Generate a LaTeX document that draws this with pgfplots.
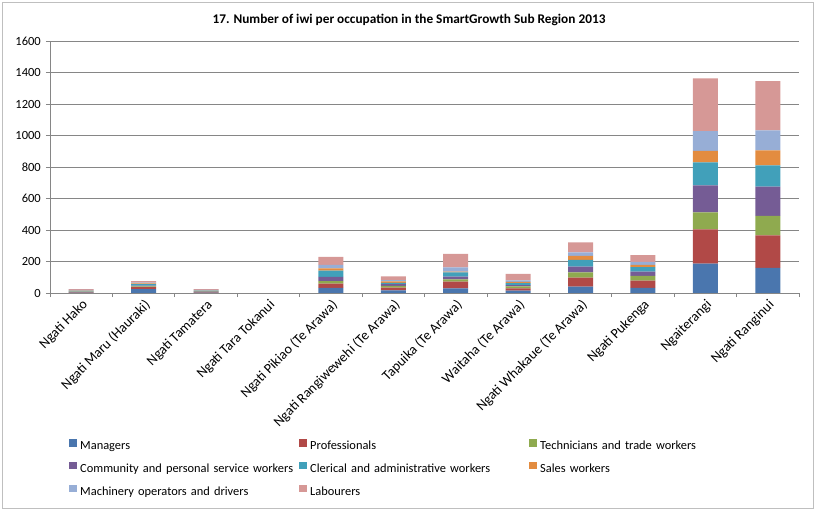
\documentclass[border=0pt]{standalone}
\usepackage{pgfplots}
\pgfplotsset{compat=1.18}
\usepackage{pgfplotstable}
\usepackage{fontspec}
\setmainfont{Carlito}
\definecolor{cM}{HTML}{4A76AE}
\definecolor{cP}{HTML}{B14947}
\definecolor{cT}{HTML}{8FAA4F}
\definecolor{cC}{HTML}{755C95}
\definecolor{cCl}{HTML}{41A0BA}
\definecolor{cS}{HTML}{E38C40}
\definecolor{cMa}{HTML}{97AED6}
\definecolor{cL}{HTML}{D69896}
\definecolor{gridc}{HTML}{868686}
\newcommand\lf{\fontsize{12.4bp}{15bp}\selectfont}
\newcommand\xf{\fontsize{14bp}{16bp}\selectfont}
\newcommand\yf{\fontsize{12.5bp}{15bp}\selectfont}
\pgfplotstableread{
x M P T C Cl S Mach L
0 3 2 3 2 4 1 5 5
1 25 12 5 5 10 4 5 10
2 3 3 2 4 3 1 4 5
3 0 0 0 0 0 0 0 0
4 32 27 17 27 39 15 21 52
5 17 17 12 11 8 9 7 25
6 30 42 15 17 27 4 28 85
7 15 15 12 8 12 8 10 42
8 40 57 34 36 43 25 23 64
9 32 46 30 27 30 13 19 44
10 186 218 108 172 146 72 125 336
11 159 207 123 186 136 95 127 313
}\data
\begin{document}
\begin{tikzpicture}
\useasboundingbox (0,0) rectangle (816bp,512bp);
\draw[gray!50, line width=0.8bp] (2bp,4bp) rectangle (813bp,510bp);
\node[font=\bfseries\fontsize{13.3bp}{16bp}\selectfont] at (409bp,492bp) {17. Number of iwi per occupation in the SmartGrowth Sub Region 2013};
\begin{axis}[
  at={(50bp,219bp)}, anchor=south west,
  scale only axis, width=749bp, height=252bp,
  ybar stacked, bar width=25bp,
  xmin=-0.5, xmax=11.5, ymin=0, ymax=1600,
  ytick={0,200,...,1600},
  xtick={0,...,11},
  xticklabels={Ngati Hako, Ngati Maru (Hauraki), Ngati Tamatera, Ngati Tara Tokanui, Ngati Pikiao (Te Arawa), Ngati Rangiwewehi (Te Arawa), Tapuika (Te Arawa), Waitaha (Te Arawa), Ngati Whakaue (Te Arawa), Ngati Pukenga, Ngaiterangi, Ngati Ranginui},
  minor xtick={-0.5,0.5,...,11.5},
  major x tick style={draw=none},
  minor x tick style={gridc, line width=0.8bp},
  minor tick length=4bp,
  major tick length=4bp,
  ytick style={gridc, line width=0.8bp},
  tick align=outside,
  axis x line*=bottom, axis y line*=left,
  axis line style={gridc, line width=0.8bp},
  ymajorgrids,
  major grid style={gridc, line width=0.8bp},
  /pgf/number format/assume math mode=true,
  /pgf/number format/set thousands separator={},
  yticklabel style={font=\yf, inner sep=0pt, xshift=-5bp},
  xticklabel style={font=\xf, rotate=45, anchor=north east, inner sep=1bp},
  legend columns=3,
  legend image code/.code={\fill[#1] (0bp,0.3bp) rectangle (7.5bp,7.8bp);},
  legend style={draw=none, fill=none, at={(axis description cs:0.0254,-0.579)}, anchor=north west,
    inner sep=0pt, row sep=9bp, column sep=0pt, font=\lf,
    nodes={inner ysep=0pt, inner xsep=3.5bp, text height=9bp, text depth=3bp, align=left},
    /tikz/column 2/.style={text width=215.5bp},
    /tikz/column 4/.style={text width=215.5bp},
    /tikz/column 6/.style={text width=200bp}},
  legend cell align=left,
]
\addplot[fill=cM, draw=none] table[x=x,y=M]{\data};
\addplot[fill=cP, draw=none] table[x=x,y=P]{\data};
\addplot[fill=cT, draw=none] table[x=x,y=T]{\data};
\addplot[fill=cC, draw=none] table[x=x,y=C]{\data};
\addplot[fill=cCl, draw=none] table[x=x,y=Cl]{\data};
\addplot[fill=cS, draw=none] table[x=x,y=S]{\data};
\addplot[fill=cMa, draw=none] table[x=x,y=Mach]{\data};
\addplot[fill=cL, draw=none] table[x=x,y=L]{\data};
\legend{Managers, Professionals, Technicians and trade workers, Community and personal service workers, Clerical and administrative workers, Sales workers, Machinery operators and drivers, Labourers}
\end{axis}
\end{tikzpicture}
\end{document}
